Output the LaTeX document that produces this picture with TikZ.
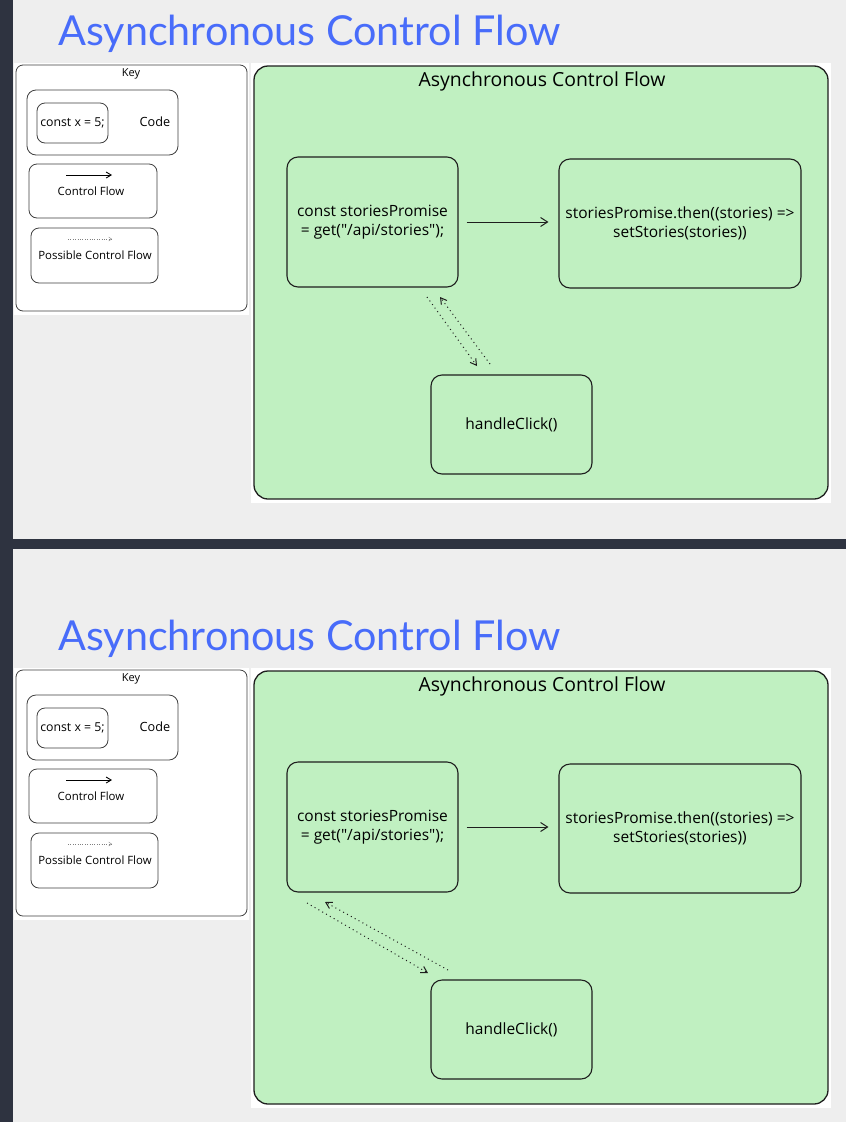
\documentclass[tikz,border=0pt]{standalone}
\usepackage{fontspec}
\usetikzlibrary{arrows.meta}
\newfontfamily\handfont{Open Sans}
\newfontfamily\titlefont{Lato}
\definecolor{pagegray}{RGB}{238,238,238}
\definecolor{darkbar}{RGB}{46,51,64}
\definecolor{titleblue}{RGB}{72,108,250}
\definecolor{panelgreen}{RGB}{192,240,193}
\definecolor{inkline}{RGB}{30,30,30}

\begin{document}
\begin{tikzpicture}[x=1pt, y=-1pt,
    codebox/.style={draw=inkline, line width=1.1pt, rounded corners=11pt, align=center,
        inner sep=0pt, font=\handfont\fontsize{15.5}{19}\selectfont},
    keybox/.style={draw=inkline!85, line width=0.8pt, rounded corners=7pt, inner sep=0pt},
    keytext/.style={inner sep=0pt, font=\handfont\fontsize{11.4}{12}\selectfont},
    flow/.style={-{Straight Barb[length=7pt,width=9pt]}, line width=1pt, draw=inkline},
    possible/.style={dash pattern=on 1pt off 3.4pt, line width=1pt, draw=inkline,
        -{Straight Barb[length=6pt,width=7pt]}}]

    % Page
    \fill[pagegray] (0,0) rectangle (846,1122);
    \fill[darkbar] (0,0) rectangle (13,1122);
    \fill[darkbar] (13,539) rectangle (846,549);

    % Two copies of the diagram
    \foreach \oy/\p in {0/a, 605/b} {
        % Heading
        \node[anchor=base west, inner sep=0pt, text=titleblue, font=\titlefont\fontsize{41.3}{48}\selectfont]
            (title\p) at (58,{45+\oy}) {Asynchronous Control Flow};

        % Key
        \fill[white] (14,{63+\oy}) rectangle (249,{315+\oy});
        \node[keybox, minimum width=231pt, minimum height=246pt] (key\p) at (131.5,{188+\oy}) {};
        \node[keytext, font=\handfont\fontsize{11}{12}\selectfont] (keylabel\p) at (131,{74+\oy}) {Key};
        \node[keybox, rounded corners=9pt, minimum width=151pt, minimum height=65pt] (codekey\p) at (102.5,{122.5+\oy}) {};
        \node[keybox, rounded corners=8pt, minimum width=71pt, minimum height=40pt, keytext,
            font=\handfont\fontsize{12.3}{13}\selectfont] (sample\p) at (72.5,{123+\oy}) {const x = 5;};
        \node[keytext, font=\handfont\fontsize{12.7}{13}\selectfont] (codelabel\p) at (155,{122+\oy}) {Code};
        \node[keybox, rounded corners=8pt, minimum width=128pt, minimum height=54pt] (flowkey\p) at (93,{191+\oy}) {};
        \draw[-{Straight Barb[length=5pt,width=6pt]}, line width=0.9pt] (66,{175+\oy}) -- (112,{175+\oy});
        \node[keytext] (flowlabel\p) at (91,{191+\oy}) {Control Flow};
        \node[keybox, rounded corners=8pt, minimum width=127pt, minimum height=55pt] (posskey\p) at (94.5,{255.5+\oy}) {};
        \draw[dotted, gray, -{Straight Barb[length=3pt,width=4pt]}] (68,{239+\oy}) -- (112,{239+\oy});
        \node[keytext] (posslabel\p) at (95,{255+\oy}) {Possible Control Flow};

        % Green panel
        \fill[white] (251,{63+\oy}) rectangle (831,{503+\oy});
        \node[draw=inkline, fill=panelgreen, line width=1.3pt, rounded corners=14pt,
            minimum width=574pt, minimum height=433pt] (panel\p) at (541,{282.5+\oy}) {};
        \node[inner sep=0pt, font=\handfont\fontsize{19.4}{21}\selectfont] (paneltitle\p) at (542,{81+\oy}) {Asynchronous Control Flow};

        % Code boxes
        \node[codebox, minimum width=171pt, minimum height=130pt] (code\p) at (372.5,{222+\oy})
            {const storiesPromise\\= get("/api/stories");};
        \node[codebox, minimum width=242pt, minimum height=129pt] (then\p) at (680,{223.5+\oy})
            {storiesPromise.then((stories) =>\\setStories(stories))};
        \node[codebox, minimum width=161pt, minimum height=99pt] (click\p) at (511.5,{424.5+\oy}) {handleClick()};

        % Control flow
        \draw[flow, shorten <=8pt, shorten >=10pt] (code\p.east) -- (code\p.east -| then\p.west);
    }

    % Possible control flow, top copy
    \coordinate (downa) at (427,297);
    \coordinate (downenda) at (477,366);
    \coordinate (upa) at (490,364);
    \coordinate (upenda) at (440,297);
    \draw[possible] (downa) -- (downenda);
    \draw[possible] (upa) -- (upenda);

    % Possible control flow, bottom copy
    \coordinate (downb) at (307,903);
    \coordinate (downendb) at (428,973);
    \coordinate (upb) at (448,970);
    \coordinate (upendb) at (325,902);
    \draw[possible] (downb) -- (downendb);
    \draw[possible] (upb) -- (upendb);

\end{tikzpicture}
\end{document}
